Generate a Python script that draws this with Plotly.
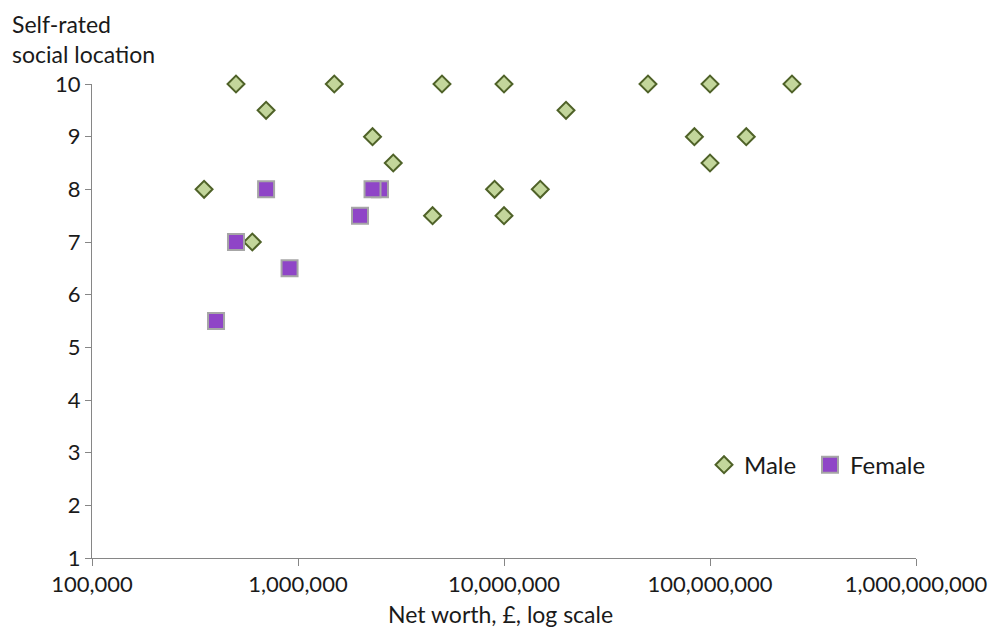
import plotly.graph_objects as go

male_worth = [5e5, 7e5, 1.5e6, 2.3e6, 2.9e6, 3.5e5, 6e5, 5e6, 1e7, 2e7, 4.5e6, 9e6, 1e7, 1.5e7,
              5e7, 1e8, 2.5e8, 8.4e7, 1.5e8, 1e8]
male_rating = [10, 9.5, 10, 9, 8.5, 8, 7, 10, 10, 9.5, 7.5, 8, 7.5, 8,
               10, 10, 10, 9, 9, 8.5]
female_worth = [7e5, 5e5, 4e5, 9.1e5, 2e6, 2.5e6, 2.3e6]
female_rating = [8, 7, 5.5, 6.5, 7.5, 8, 8]

x_tickvals = [1e5, 1e6, 1e7, 1e8, 1e9]
x_ticktext = ["100,000", "1,000,000", "10,000,000", "100,000,000", "1,000,000,000"]
y_tickvals = list(range(1, 11))

FONT = "Lato"
AXIS_GREY = "#868686"

fig = go.Figure()
fig.add_trace(go.Scatter(
    x=male_worth, y=male_rating, mode="markers", name="Male", cliponaxis=False,
    legend="legend",
    marker=dict(symbol="diamond", size=13, color="#c3d69b",
                line=dict(color="#4f6228", width=2)),
))
fig.add_trace(go.Scatter(
    x=female_worth, y=female_rating, mode="markers", name="Female", cliponaxis=False,
    legend="legend2",
    marker=dict(symbol="square", size=16, color="#8f45c7",
                line=dict(color="#a6a6a6", width=2)),
))

leg_common = dict(orientation="h", y=0.196, xanchor="left", yanchor="middle",
                  bgcolor="rgba(0,0,0,0)", font=dict(size=24), itemwidth=30)

fig.update_layout(
    width=991, height=628,
    margin=dict(l=92, r=75, t=84, b=70, autoexpand=False),
    paper_bgcolor="white", plot_bgcolor="white",
    font=dict(family=FONT, size=22, color="#1a1a1a"),
    showlegend=True,
    legend=dict(x=(704 - 92) / 824, **leg_common),
    legend2=dict(x=(810 - 92) / 824, **leg_common),
    xaxis=dict(type="log", range=[5, 9], tickvals=x_tickvals, ticktext=x_ticktext,
               showgrid=False, zeroline=False, showline=True, linecolor=AXIS_GREY,
               linewidth=1, ticks="outside", ticklen=7, tickcolor=AXIS_GREY,
               tickfont=dict(size=22), automargin=False),
    yaxis=dict(range=[1, 10], tickvals=y_tickvals, showgrid=False, zeroline=False,
               showline=True, linecolor=AXIS_GREY, linewidth=1, ticks="outside",
               ticklen=6, tickcolor=AXIS_GREY, tickfont=dict(size=22), automargin=False),
    annotations=[
        dict(text="Self-rated<br>social location", xref="paper", yref="paper",
             x=-92/824, y=1 + 84/474, xanchor="left", yanchor="top", showarrow=False,
             align="left", xshift=10, yshift=-8, font=dict(size=23)),
        dict(text="Net worth, £, log scale", xref="paper", yref="paper",
             x=(500-92)/824, y=0, xanchor="center", yanchor="top", showarrow=False,
             yshift=-40, font=dict(size=23)),
    ],
)

fig.write_html("out.html")
